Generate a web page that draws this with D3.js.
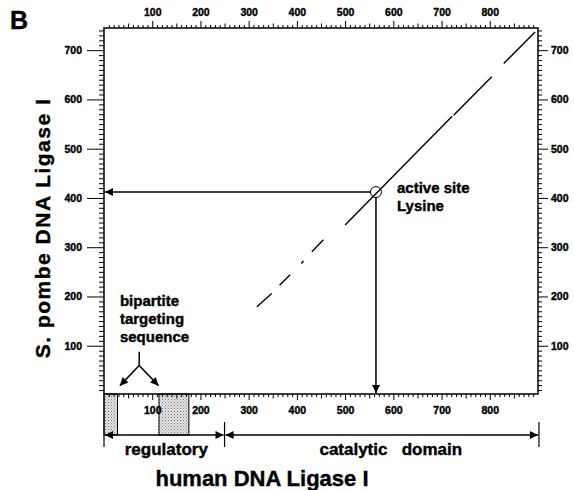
<!DOCTYPE html>
<html>
<head>
<meta charset="utf-8">
<script src="https://cdn.jsdelivr.net/npm/d3@7"></script>
<style>
  body { margin: 0; background: #fff; }
  text { font-family: "Liberation Sans", Arial, Helvetica, sans-serif; font-weight: bold; fill: #000; stroke: #000; stroke-width: 0.4px; }
</style>
</head>
<body>
<div id="chart"></div>
<script>
// dot plot segments (human residue -> S. pombe residue)
const humanStart = [317, 364, 409, 431, 500, 725, 829];
const humanEnd   = [348, 386, 414, 455, 722, 804, 894];
const pombeStart = [179, 223, 267, 291, 345, 568, 673];
const pombeEnd   = [206, 244, 272, 315, 566, 646, 737];

const activeSite = [564, 412];          // human, pombe
const bipartiteStart = [0, 114];
const bipartiteEnd = [28, 176];
const domainNames = ["regulatory", "catalytic   domain"];
const domainStart = [0, 250];
const domainEnd = [250, 902];

const xTicks = [100, 200, 300, 400, 500, 600, 700, 800];
const yTicks = [100, 200, 300, 400, 500, 600, 700];

const width = 574, height = 490;
const plotLeft = 104, plotRight = 538, plotTop = 28, plotBottom = 394;

const svg = d3.select("#chart").append("svg")
    .attr("width", width)
    .attr("height", height);

const defs = svg.append("defs");
const pat = defs.append("pattern")
    .attr("id", "stipple")
    .attr("width", 3).attr("height", 3)
    .attr("patternUnits", "userSpaceOnUse");
pat.append("rect").attr("width", 3).attr("height", 3).attr("fill", "#e4e4e4");
pat.append("rect").attr("x", 0).attr("y", 0).attr("width", 1).attr("height", 1).attr("fill", "#777");
pat.append("rect").attr("x", 1.5).attr("y", 1.5).attr("width", 1).attr("height", 1).attr("fill", "#999");

const arrowHead = (id, dir) => {
    defs.append("marker")
        .attr("id", id)
        .attr("viewBox", "0 0 10 10")
        .attr("refX", 10).attr("refY", 5)
        .attr("markerWidth", 9).attr("markerHeight", 8)
        .attr("markerUnits", "userSpaceOnUse")
        .attr("orient", dir)
        .append("path")
        .attr("d", "M0,0 L10,5 L0,10 Z")
        .attr("fill", "#000");
};
arrowHead("head", "auto");
arrowHead("headStart", "auto-start-reverse");

const x = d3.scaleLinear().domain([0, 900]).range([plotLeft, plotRight]);
const y = d3.scaleLinear().domain([0, 745]).range([plotBottom + 1, plotTop]);

// shaded bipartite targeting regions below the axis
svg.selectAll(".bip")
    .data(bipartiteStart)
    .enter()
    .append("rect")
    .attr("x", (d, i) => x(d))
    .attr("y", plotBottom)
    .attr("width", (d, i) => x(bipartiteEnd[i]) - x(d))
    .attr("height", 41)
    .attr("fill", "url(#stipple)")
    .attr("stroke", "#000")
    .attr("stroke-width", 1);

// axes
const minor = d3.range(10, 900, 10).filter(d => d % 100 !== 0);
const minorY = d3.range(10, 745, 10).filter(d => d % 100 !== 0);

function styleAxis(g) {
    g.select(".domain").remove();
    g.selectAll("line").attr("stroke", "#000").attr("stroke-width", 1);
    g.selectAll("text").style("font-size", "10.5px").style("font-weight", "bold")
        .attr("stroke", "#000").attr("stroke-width", 0.35);
}

svg.append("g").attr("transform", `translate(0,${plotTop})`)
    .call(d3.axisTop(x).tickValues(minor).tickSize(3).tickFormat(""))
    .call(g => g.selectAll(".tick line").attr("y2", d => d % 50 === 0 ? -4.5 : -3))
    .call(styleAxis);
svg.append("g").attr("transform", `translate(0,${plotTop})`)
    .call(d3.axisTop(x).tickValues(xTicks).tickSize(7).tickPadding(5))
    .call(styleAxis);

svg.append("g").attr("transform", `translate(0,${plotBottom})`)
    .call(d3.axisBottom(x).tickValues(minor).tickSize(3).tickFormat(""))
    .call(g => g.selectAll(".tick line").attr("y2", d => d % 50 === 0 ? 4.5 : 3))
    .call(styleAxis);
svg.append("g").attr("transform", `translate(0,${plotBottom})`)
    .call(d3.axisBottom(x).tickValues(xTicks).tickSize(6).tickPadding(7))
    .call(styleAxis);

svg.append("g").attr("transform", `translate(${plotLeft},0)`)
    .call(d3.axisLeft(y).tickValues(minorY).tickSize(5).tickFormat(""))
    .call(styleAxis);
svg.append("g").attr("transform", `translate(${plotLeft},0)`)
    .call(d3.axisLeft(y).tickValues(yTicks).tickSize(17).tickPadding(5))
    .call(styleAxis);

svg.append("g").attr("transform", `translate(${plotRight},0)`)
    .call(d3.axisRight(y).tickValues(minorY).tickSize(4).tickFormat(""))
    .call(styleAxis);
svg.append("g").attr("transform", `translate(${plotRight},0)`)
    .call(d3.axisRight(y).tickValues(yTicks).tickSize(10).tickPadding(3))
    .call(styleAxis);

// frame
svg.append("rect")
    .attr("x", plotLeft).attr("y", plotTop)
    .attr("width", plotRight - plotLeft).attr("height", plotBottom - plotTop)
    .attr("fill", "none")
    .attr("stroke", "#000")
    .attr("stroke-width", 1.5);

// dot plot diagonal
svg.selectAll(".seg")
    .data(humanStart)
    .enter()
    .append("line")
    .attr("x1", d => x(d))
    .attr("y1", (d, i) => y(pombeStart[i]))
    .attr("x2", (d, i) => x(humanEnd[i]))
    .attr("y2", (d, i) => y(pombeEnd[i]))
    .attr("stroke", "#000")
    .attr("stroke-width", 1.4);

// active site marker and arrows to the axes
const cx = x(activeSite[0]), cy = y(activeSite[1]);
svg.append("circle")
    .attr("cx", cx).attr("cy", cy).attr("r", 5.5)
    .attr("fill", "none").attr("stroke", "#000").attr("stroke-width", 1);
svg.append("line")
    .attr("x1", cx - 5.5).attr("y1", cy).attr("x2", plotLeft + 1).attr("y2", cy)
    .attr("stroke", "#000").attr("stroke-width", 1.5)
    .attr("marker-end", "url(#head)");
svg.append("line")
    .attr("x1", cx).attr("y1", cy + 5.5).attr("x2", cx).attr("y2", plotBottom - 1)
    .attr("stroke", "#000").attr("stroke-width", 1.5)
    .attr("marker-end", "url(#head)");

svg.append("text")
    .attr("x", cx + 21).attr("y", cy + 1)
    .style("font-size", "15px")
    .text("active site");
svg.append("text")
    .attr("x", cx + 21).attr("y", cy + 19)
    .style("font-size", "15px")
    .text("Lysine");

// bipartite targeting annotation
const bx = x(73);
["bipartite", "targeting", "sequence"].forEach((t, i) => {
    svg.append("text")
        .attr("x", x(33)).attr("y", y(181) + i * 18.3)
        .style("font-size", "15px")
        .text(t);
});
svg.append("line")
    .attr("x1", bx).attr("y1", y(88)).attr("x2", bx).attr("y2", y(60))
    .attr("stroke", "#000").attr("stroke-width", 1.5);
[33, 113].forEach(t => {
    svg.append("line")
        .attr("x1", bx).attr("y1", y(60)).attr("x2", x(t)).attr("y2", y(19))
        .attr("stroke", "#000").attr("stroke-width", 1.5)
        .attr("marker-end", "url(#head)");
});

// domain arrows
const ay = 435;
domainStart.forEach((d, i) => {
    svg.append("line")
        .attr("x1", x(d) + 1).attr("y1", ay)
        .attr("x2", x(domainEnd[i]) - 1).attr("y2", ay)
        .attr("stroke", "#000").attr("stroke-width", 1.5)
        .attr("marker-start", "url(#headStart)")
        .attr("marker-end", "url(#head)");
    svg.append("text")
        .attr("x", (x(d) + x(domainEnd[i])) / 2 + (i === 0 ? 2 : 9))
        .attr("y", 455)
        .attr("text-anchor", "middle")
        .style("font-size", "17px")
        .style("white-space", "pre")
        .text(domainNames[i]);
});
svg.append("line").attr("x1", x(0)).attr("x2", x(0)).attr("y1", plotBottom).attr("y2", 447)
    .attr("stroke", "#000").attr("stroke-width", 1.2);
[domainStart[1], domainEnd[1]].forEach(d => {
    svg.append("line").attr("x1", x(d)).attr("x2", x(d)).attr("y1", 422).attr("y2", 447)
        .attr("stroke", "#000").attr("stroke-width", 1.2);
});

// titles
svg.append("text")
    .attr("x", 262).attr("y", 486)
    .attr("text-anchor", "middle")
    .style("font-size", "22px")
    .text("human DNA Ligase I");

svg.append("text")
    .attr("transform", "translate(50,228) rotate(-90)")
    .attr("text-anchor", "middle")
    .style("font-size", "21px")
    .style("letter-spacing", "1.5px")
    .text("S. pombe DNA Ligase I");

svg.append("text")
    .attr("x", 10).attr("y", 29)
    .style("font-size", "25px")
    .text("B");
</script>
</body>
</html>
